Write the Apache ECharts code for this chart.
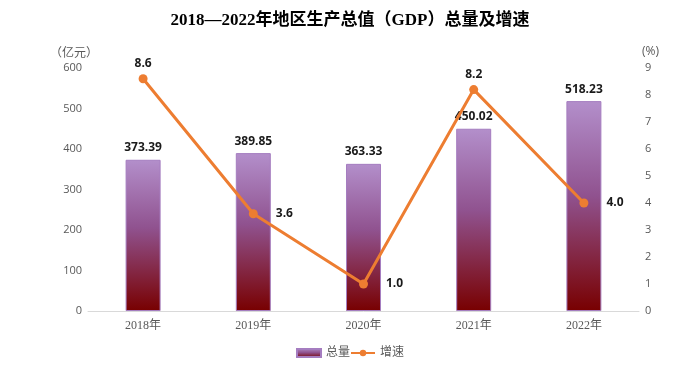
<!DOCTYPE html>
<html><head><meta charset="utf-8">
<script src="https://cdn.jsdelivr.net/npm/echarts@6/dist/echarts.min.js"></script>
<style>html,body{margin:0;padding:0;background:#fff}#c{width:700px;height:370px}</style>
</head><body><div id="c"></div>
<script>
var categories = ['2018年','2019年','2020年','2021年','2022年'];
var totalValues = [373.39, 389.85, 363.33, 450.02, 518.23];
var growthValues = [8.6, 3.6, 1.0, 8.2, 4.0];
var growthLabelPos = ['top','right','right','top','right'];
var leftTicks = {min:0, max:600, interval:100};
var rightTicks = {min:0, max:9, interval:1};

var chart = echarts.init(document.getElementById('c'));
chart.setOption({
  animation:false,
  title:{text:'2018—2022年地区生产总值（GDP）总量及增速', left:'center', top:7,
    textStyle:{fontFamily:'"Liberation Serif","Noto Sans CJK SC"', fontSize:17, fontWeight:'bold', color:'#000'}},
  grid:{left:88, right:61, top:68, bottom:59},
  legend:{bottom:6, left:'center', itemGap:0, itemWidth:24, itemHeight:8,
    textStyle:{fontFamily:'"Liberation Serif","Noto Sans CJK SC"', fontSize:12, color:'#595959'},
    data:[{name:'总量', icon:'rect'},{name:'增速'}]},
  xAxis:{type:'category', data:categories,
    axisLine:{lineStyle:{color:'#d9d9d9'}}, axisTick:{show:false},
    axisLabel:{fontFamily:'"Liberation Serif","Noto Sans CJK SC"', fontSize:12, color:'#595959', margin:9}},
  yAxis:[
    {type:'value', min:leftTicks.min, max:leftTicks.max, interval:leftTicks.interval,
     name:'（亿元）', nameGap:10, nameTextStyle:{color:'#595959', fontSize:12, align:'right', padding:[0,-10,0,0], fontFamily:'"Noto Sans CJK SC"'},
     splitLine:{show:false}, axisLine:{show:false}, axisTick:{show:false},
     axisLabel:{color:'#595959', fontSize:11, margin:6, fontFamily:'"Open Sans","Noto Sans"'}},
    {type:'value', min:rightTicks.min, max:rightTicks.max, interval:rightTicks.interval,
     name:'(%)', nameGap:10, nameTextStyle:{color:'#595959', fontSize:12, align:'left', padding:[0,0,0,3], fontFamily:'"Open Sans","Noto Sans"'},
     splitLine:{show:false}, axisLine:{show:false}, axisTick:{show:false},
     axisLabel:{color:'#595959', fontSize:11, margin:6, fontFamily:'"Open Sans","Noto Sans"'}}
  ],
  series:[
    {name:'总量', type:'bar', data:totalValues, barWidth:35, yAxisIndex:0,
     itemStyle:{color:new echarts.graphic.LinearGradient(0,0,0,1,[
        {offset:0,color:'#b38fcb'},{offset:0.45,color:'#90528f'},{offset:1,color:'#780000'}]),
       borderColor:'#a57dc0', borderWidth:1},
     label:{show:true, position:'top', distance:6, color:'#1a1a1a', fontWeight:'bold', fontSize:12, fontFamily:'"Open Sans","Noto Sans"'}},
    {name:'增速', type:'line', data:growthValues.map(function(v,i){
        return {value:v, label:{position:growthLabelPos[i], distance: growthLabelPos[i]==='top'?5:18}};}),
     yAxisIndex:1, color:'#ed7d31', symbol:'circle', symbolSize:9,
     lineStyle:{width:3, color:'#ed7d31'}, itemStyle:{color:'#ed7d31'},
     label:{show:true, color:'#1a1a1a', fontWeight:'bold', fontSize:12, fontFamily:'"Open Sans","Noto Sans"',
       formatter:function(p){return p.value.toFixed(1);}}}
  ]
});
</script></body></html>
